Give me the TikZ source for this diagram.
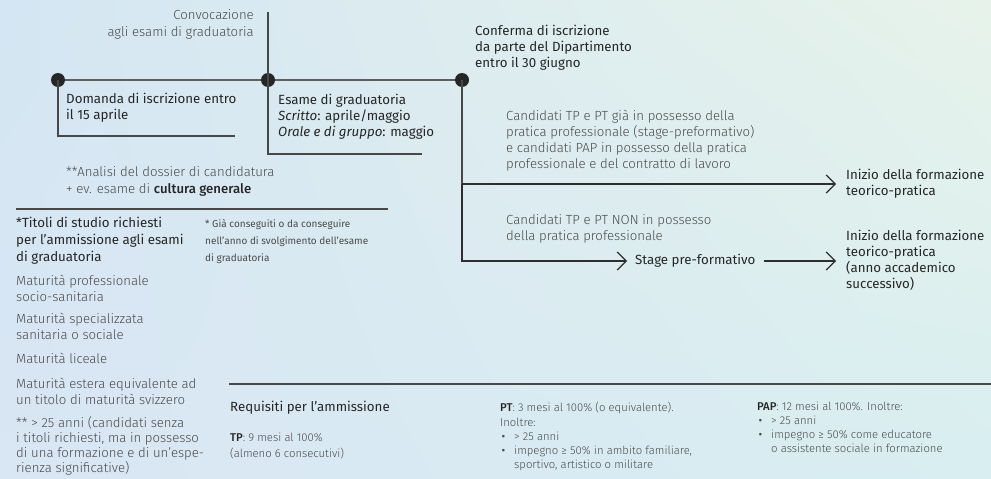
\documentclass[tikz,border=0pt]{standalone}
\usepackage{fontspec}
\setmainfont{Fira Sans}
\newfontfamily\flight{Fira Sans Light}
\newfontfamily\fmed{Fira Sans Medium}
\usetikzlibrary{arrows.meta,shadings}
\definecolor{bgUL}{HTML}{D4E6F3}
\definecolor{bgUR}{HTML}{E7F3EA}
\definecolor{bgLL}{HTML}{D9E6F4}
\definecolor{bgLR}{HTML}{D8EEF1}
\definecolor{ink}{HTML}{262626}
\definecolor{soft}{HTML}{4A4A4A}
\definecolor{rulec}{HTML}{484848}
\definecolor{tlc}{HTML}{5E5E5E}
\definecolor{arrc}{HTML}{2E2E2E}
\newcommand\bul{\makebox[14pt][l]{\normalfont\hspace{1.5pt}•}}
\newcommand\md[1]{{\fmed\color{ink}#1}}
\begin{document}
\begin{tikzpicture}[x=1pt,y=-1pt,
  lbl/.style={anchor=north west, inner sep=0pt, align=left, text=ink, font=\fontsize{13.3}{16}\selectfont},
  gry/.style={lbl, text=soft, font=\flight\fontsize{13.2}{15.8}\selectfont},
  note/.style={lbl, text=soft, font=\fontsize{10}{17}\selectfont},
  req/.style={lbl, text=soft, font=\flight\fontsize{11.3}{14.3}\selectfont},
  dot/.style={circle, fill=ink, inner sep=0pt, minimum size=14pt},
  tl/.style={draw=tlc, line width=2.2pt},
  boxln/.style={draw=rulec, line width=1.4pt},
  sepln/.style={draw=rulec, line width=1.3pt},
  arr/.style={draw=arrc, line width=1.2pt, -{Straight Barb[length=9pt,width=18pt]}},
  tgt/.style={lbl, inner xsep=10pt, inner ysep=0pt}
]
\shade[upper left=bgUL, upper right=bgUR, lower left=bgLL, lower right=bgLR] (0,0) rectangle (991,479);
\useasboundingbox (0,0) rectangle (991,479);

% timeline
\coordinate (ctop) at (268,12);
\coordinate (b1) at (58,136);
\coordinate (b1e) at (235,136);
\coordinate (b2) at (268,154);
\coordinate (b2e) at (422,154);
\coordinate (br1) at (462,184);
\node[dot] (d1) at (58,80) {};
\node[dot] (d2) at (268,80) {};
\node[dot] (d3) at (462,80) {};

\draw[boxln] (d1.center) -- (b1) -- (b1e);
\draw[boxln] (ctop) -- (d2.center) -- (b2) -- (b2e);
\draw[tl] (d1) -- (d2) -- (d3);

% texts top
\node[gry, anchor=north east, align=right, font=\flight\fontsize{13.2}{17}\selectfont] (conv) at (254,9.3) {Convocazione\\agli esami di graduatoria};
\node[lbl] (conf) at (475,25.1) {Conferma di iscrizione\\da parte del Dipartimento\\entro il 30 giugno};
\node[lbl] (dom) at (66,93.1) {Domanda di iscrizione entro\\il 15 aprile};
\node[lbl] (esa) at (278,94.1) {Esame di graduatoria\\\textit{Scritto}: aprile/maggio\\\textit{Orale e di gruppo}: maggio};
\node[gry, font=\flight\fontsize{13.2}{16.5}\selectfont] (ana) at (66,166.8) {**Analisi del dossier di candidatura\\+ ev. esame di \md{cultura generale}};

% branches
\node[gry] (cand1) at (506,110.3) {Candidati TP e PT già in possesso della\\pratica professionale (stage-preformativo)\\e candidati PAP in possesso della pratica\\professionale e del contratto di lavoro};
\node[tgt] (ini1) at (836,169.1) {Inizio della formazione\\teorico-pratica};
\node[gry] (cand2) at (506,214.3) {Candidati TP e PT NON in possesso\\della pratica professionale};
\node[lbl, anchor=west, inner xsep=8pt] (stage) at (627,261) {Stage pre-formativo};
\node[tgt] (ini2) at (836,230.1) {Inizio della formazione\\teorico-pratica\\(anno accademico\\successivo)};

\draw[boxln] (d3.center) -- (br1);
\draw[arr] (br1) -- (ini1.west |- br1);
\draw[arr] (br1) |- (stage.west);
\draw[arr] (stage.east) -- (ini2.west |- stage.east);

% left column
\coordinate (s1a) at (16,209);
\coordinate (s1b) at (388,209);
\draw[sepln] (s1a) -- (s1b);
\node[lbl, font=\fontsize{13.3}{17}\selectfont] (tit) at (16,217.1) {*Titoli di studio richiesti\\per l’ammissione agli esami\\di graduatoria};
\node[note] (gia) at (205,218.8) {* Già conseguiti o da conseguire\\nell’anno di svolgimento dell’esame\\di graduatoria};
\node[gry] (m1) at (16,275.3) {Maturità professionale\\socio-sanitaria};
\node[gry] (m2) at (16,313.3) {Maturità specializzata\\sanitaria o sociale};
\node[gry] (m3) at (16,353.3) {Maturità liceale};
\node[gry] (m4) at (16,378.3) {Maturità estera equivalente ad\\un titolo di maturità svizzero};
\node[gry, font=\flight\fontsize{13.2}{15}\selectfont] (m5) at (16,416.3) {** > 25 anni (candidati senza\\i titoli richiesti, ma in possesso\\di una formazione e di un’espe-\\rienza significative)};

% requirements
\coordinate (s2a) at (229,384);
\coordinate (s2b) at (991,384);
\draw[sepln] (s2a) -- (s2b);
\node[lbl] (req) at (230,401.1) {Requisiti per l’ammissione};
\node[req, font=\flight\fontsize{11.3}{15.7}\selectfont] (tp) at (230,433) {\md{TP}: 9 mesi al 100\%\\(almeno 6 consecutivi)};
\node[req] (pt) at (500,402.1) {\md{PT}: 3 mesi al 100\% (o equivalente).\\Inoltre:\\\bul> 25 anni\\\bul impegno ≥ 50\% in ambito familiare,\\\hspace*{14pt}sportivo, artistico o militare};
\node[req, font=\flight\fontsize{11.3}{14}\selectfont] (pap) at (757,402.1) {\md{PAP}: 12 mesi al 100\%. Inoltre:\\\bul> 25 anni\\\bul impegno ≥ 50\% come educatore\\\hspace*{14pt}o assistente sociale in formazione};
\end{tikzpicture}
\end{document}
